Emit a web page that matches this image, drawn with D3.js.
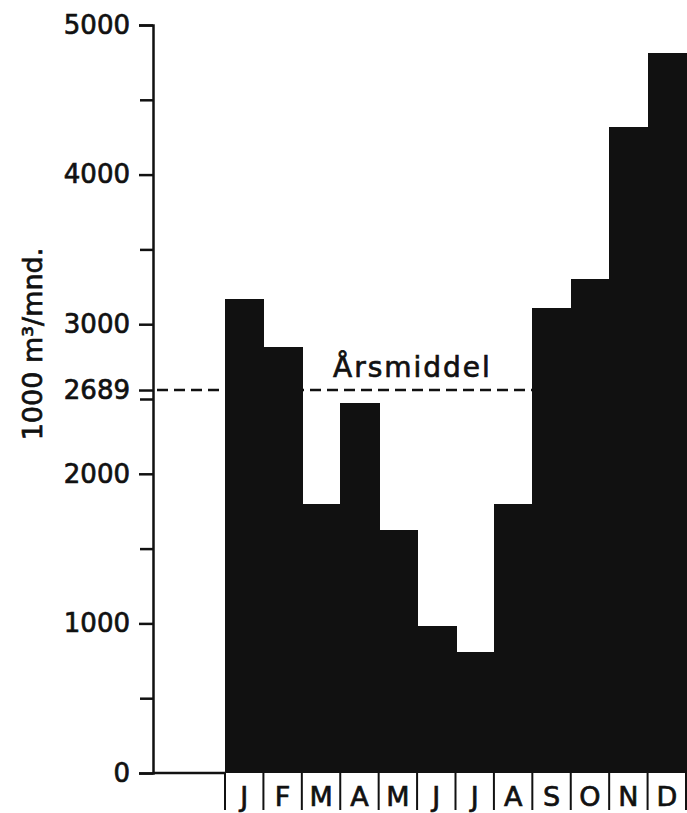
<!DOCTYPE html>
<html><head><meta charset="utf-8">
<script src="https://cdn.jsdelivr.net/npm/d3@7"></script>
<style>html,body{margin:0;padding:0;background:#fff;} svg{display:block;}</style>
</head><body>
<svg id="chart" width="687" height="813"></svg>
<script>
const months = ["J","F","M","A","M","J","J","A","S","O","N","D"];
const values = [3170, 2850, 1795, 2470, 1625, 980, 810, 1795, 3105, 3305, 4320, 4815];
const majorTicks = [0, 1000, 2000, 3000, 4000, 5000];
const minorTicks = [500, 1500, 2500, 3500, 4500];
const meanLevel = 2560;      // where the dashed line is drawn in the picture
const meanLabel = "2689";
const meanText = "Årsmiddel";
const yTitle = "1000 m³/mnd.";

const svg = d3.select("#chart");
const font = "DejaVu Sans, sans-serif";
const ink = "#111";
const textStroke = 0.7;

const y = d3.scaleLinear().domain([0, 5000]).range([773, 25]);
const x = d3.scaleBand().domain(d3.range(months.length)).range([225, 686]).padding(0);
const axisX = 153;

function styleText(sel, size) {
  sel.attr("fill", ink).attr("stroke", ink).attr("stroke-width", textStroke)
     .style("font-family", font).style("font-size", size + "px");
}

// mean dashed line (behind bars)
svg.append("line")
  .attr("x1", 157).attr("x2", x.range()[1])
  .attr("y1", y(meanLevel)).attr("y2", y(meanLevel))
  .attr("stroke", ink).attr("stroke-width", 2.4)
  .attr("stroke-dasharray", "11,6");

// bars
svg.append("g").attr("shape-rendering", "crispEdges")
  .selectAll("rect").data(values).join("rect")
  .attr("x", (d, i) => x(i))
  .attr("width", x.bandwidth() + 1)
  .attr("y", d => y(d))
  .attr("height", d => y(0) - y(d))
  .attr("fill", ink);

// y axis
const yAxis = d3.axisLeft(y).tickValues(majorTicks).tickSize(14).tickPadding(9).tickFormat(d3.format("d"));
const gy = svg.append("g").attr("transform", `translate(${axisX},0)`).call(yAxis);
gy.select(".domain").attr("stroke", ink).attr("stroke-width", 2.5);
gy.selectAll(".tick line").attr("stroke", ink).attr("stroke-width", 2.5);
styleText(gy.selectAll(".tick text"), 26);

const yMinor = d3.axisLeft(y).tickValues(minorTicks).tickSize(13).tickFormat("");
const gm = svg.append("g").attr("transform", `translate(${axisX},0)`).call(yMinor);
gm.select(".domain").remove();
gm.selectAll(".tick line").attr("stroke", ink).attr("stroke-width", 2.5);

const yMean = d3.axisLeft(y).tickValues([meanLevel]).tickSize(14).tickPadding(9).tickFormat(() => meanLabel);
const gmean = svg.append("g").attr("transform", `translate(${axisX},0)`).call(yMean);
gmean.select(".domain").remove();
gmean.selectAll(".tick line").attr("stroke", ink).attr("stroke-width", 2.5);
styleText(gmean.selectAll(".tick text"), 26);

// baseline from axis to bars
svg.append("line")
  .attr("x1", axisX).attr("x2", x.range()[0])
  .attr("y1", y(0)).attr("y2", y(0))
  .attr("stroke", ink).attr("stroke-width", 2.5);

// month boxes: separators and labels
const edges = d3.range(months.length + 1).map(i => x.range()[0] + i * x.bandwidth());
svg.append("g").selectAll("line").data(edges).join("line")
  .attr("x1", d => d).attr("x2", d => d)
  .attr("y1", y(0)).attr("y2", 810)
  .attr("stroke", ink).attr("stroke-width", 2);

styleText(svg.append("g").selectAll("text").data(months).join("text")
  .attr("x", (d, i) => x(i) + x.bandwidth() / 2)
  .attr("y", 806)
  .attr("text-anchor", "middle")
  .text(d => d), 27);

// mean label
styleText(svg.append("text")
  .attr("x", 333).attr("y", y(meanLevel) - 13)
  .style("letter-spacing", "2px")
  .text(meanText), 28);

// y title
styleText(svg.append("text")
  .attr("transform", `translate(42,344) rotate(-90)`)
  .attr("text-anchor", "middle")
  .text(yTitle), 27);
</script>
</body></html>
